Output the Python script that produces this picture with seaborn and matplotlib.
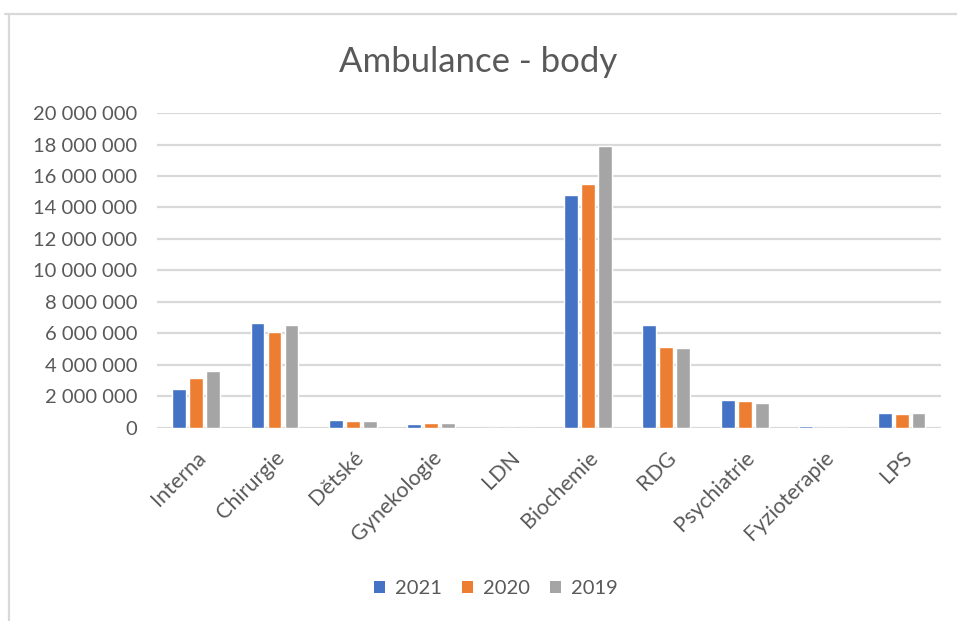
import matplotlib
matplotlib.use("Agg")
import matplotlib.pyplot as plt
from matplotlib.lines import Line2D
from matplotlib.patches import Patch
import pandas as pd
import seaborn as sns

categories = ["Interna", "Chirurgie", "Dětské", "Gynekologie", "LDN",
              "Biochemie", "RDG", "Psychiatrie", "Fyzioterapie", "LPS"]
years = ["2021", "2020", "2019"]
values_2021 = [2480000, 6670000, 510000, 250000, 0,
               14800000, 6550000, 1780000, 120000, 950000]
values_2020 = [3170000, 6100000, 440000, 300000, 0,
               15500000, 5140000, 1710000, 0, 860000]
values_2019 = [3620000, 6540000, 430000, 300000, 0,
               17900000, 5080000, 1590000, 0, 950000]
yticks = [0, 2000000, 4000000, 6000000, 8000000, 10000000,
          12000000, 14000000, 16000000, 18000000, 20000000]
colors = ["#4472C4", "#ED7D31", "#A5A5A5"]

df = pd.DataFrame({
    "kategorie": categories * 3,
    "rok": [y for y in years for _ in categories],
    "body": values_2021 + values_2020 + values_2019,
})

sns.set_theme(style="white")
plt.rcParams["font.family"] = ["Lato", "DejaVu Sans"]
text_color = "#595959"
grid_color = "#D9D9D9"

fig = plt.figure(figsize=(9.57, 6.21), dpi=100)
ax = fig.add_axes([0.164, 0.311, 0.819, 0.507])

sns.barplot(data=df, x="kategorie", y="body", hue="rok", hue_order=years,
            order=categories, palette=colors, width=0.65, gap=0.18,
            saturation=1, errorbar=None, legend=False, ax=ax)

ax.set_ylim(0, 20000000)
ax.set_xlim(-0.5, len(categories) - 0.5)
ax.set_yticks(yticks)
ax.set_yticklabels([f"{v:,}".replace(",", " ") for v in yticks])
ax.yaxis.grid(True, color=grid_color, linewidth=1.6)
ax.set_axisbelow(True)
for s in ax.spines.values():
    s.set_visible(False)
ax.tick_params(axis="both", length=0, colors=text_color)
ax.tick_params(axis="y", pad=14, labelsize=14.5)
ax.tick_params(axis="x", pad=14, labelsize=15.5)
plt.setp(ax.get_xticklabels(), rotation=45, ha="right", rotation_mode="anchor")
ax.set_xlabel("")
ax.set_ylabel("")

fig.text(0.5, 0.9, "Ambulance - body", ha="center", va="center",
         fontsize=25, color=text_color)

handles = [Patch(facecolor=c, edgecolor="none") for c in colors]
fig.legend(handles, years, loc="center", bbox_to_anchor=(0.518, 0.052),
           ncol=3, frameon=False, fontsize=14.5, labelcolor=text_color,
           handlelength=0.55, handleheight=0.55, handletextpad=0.5,
           columnspacing=1.0)

# chart frame
fig.add_artist(Line2D([5 / 957, 1.0], [1 - 13.5 / 621, 1 - 13.5 / 621],
                      transform=fig.transFigure, color=grid_color, linewidth=1.6))
fig.add_artist(Line2D([9 / 957, 9 / 957], [0.0, 1 - 13.5 / 621],
                      transform=fig.transFigure, color=grid_color, linewidth=1.6))

fig.savefig("out.png", dpi=100, facecolor="white")
